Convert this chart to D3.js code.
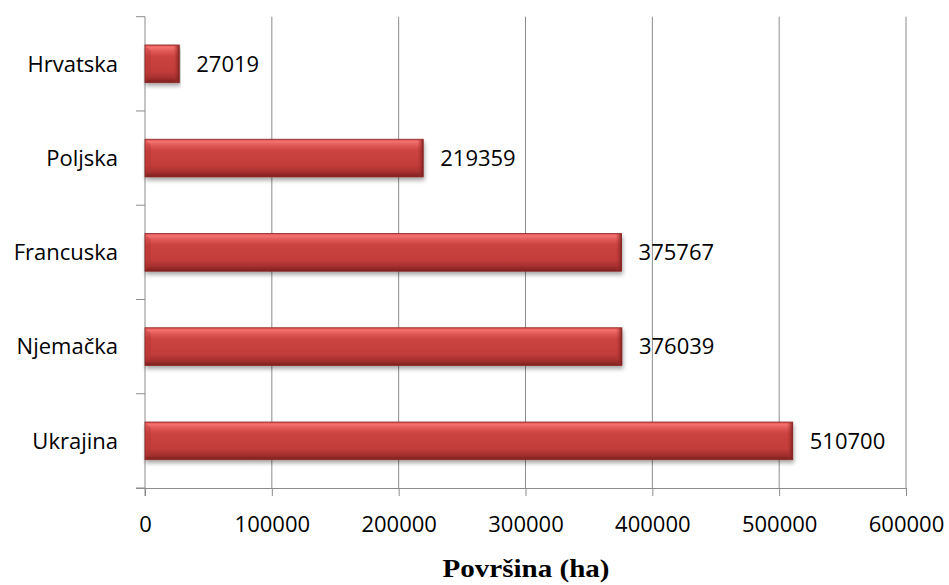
<!DOCTYPE html>
<html>
<head>
<meta charset="utf-8">
<script src="https://cdn.jsdelivr.net/npm/d3@7"></script>
<style>
  body { margin: 0; background: #fff; }
  svg { display: block; }
</style>
</head>
<body>
<div id="chart"></div>
<script>
// data
const countries = ["Ukrajina", "Njemačka", "Francuska", "Poljska", "Hrvatska"];
const areas = [510700, 376039, 375767, 219359, 27019];
const xTicks = [0, 100000, 200000, 300000, 400000, 500000, 600000];
const xTitle = "Površina (ha)";

const data = countries.map((c, i) => ({ name: c, value: areas[i] }));

let margin = { top: 16.7, right: 43, bottom: 97, left: 145 },
  width = 949 - margin.left - margin.right,
  height = 585 - margin.top - margin.bottom;

const svg = d3
  .select("#chart")
  .append("svg")
  .attr("width", 949)
  .attr("height", 585);

// gradients for the bevelled bars
const defs = svg.append("defs");
const grad = defs
  .append("linearGradient")
  .attr("id", "barGrad")
  .attr("x1", 0).attr("y1", 0).attr("x2", 0).attr("y2", 1);
[
  [0, "#d84a48"],
  [0.06, "#f37270"],
  [0.16, "#e15a58"],
  [0.3, "#cc4341"],
  [0.7, "#c23d3b"],
  [0.86, "#a8302f"],
  [1, "#7c2120"],
].forEach(([o, c]) => grad.append("stop").attr("offset", o).attr("stop-color", c));

const endGrad = defs
  .append("linearGradient")
  .attr("id", "endGrad")
  .attr("x1", 0).attr("y1", 0).attr("x2", 1).attr("y2", 0);
endGrad.append("stop").attr("offset", 0).attr("stop-color", "#b53533").attr("stop-opacity", 0);
endGrad.append("stop").attr("offset", 1).attr("stop-color", "#7a1f1e").attr("stop-opacity", 0.9);

const shadow = defs.append("filter").attr("id", "shadow")
  .attr("x", "-5%").attr("y", "-20%").attr("width", "110%").attr("height", "160%");
shadow.append("feDropShadow")
  .attr("dx", 1).attr("dy", 3).attr("stdDeviation", 2.2)
  .attr("flood-color", "#000").attr("flood-opacity", 0.35);

const g = svg.append("g").attr("transform", "translate(" + margin.left + "," + margin.top + ")");

// scales
const x = d3.scaleLinear().domain([0, 600000]).range([0, width]);
const y = d3
  .scaleBand()
  .domain(data.map((d) => d.name).reverse())
  .range([0, height])
  .paddingInner(0.6)
  .paddingOuter(0.3);

// vertical gridlines
g.selectAll(".grid")
  .data(xTicks.filter((d) => d > 0))
  .join("line")
  .attr("class", "grid")
  .attr("x1", (d) => x(d)).attr("x2", (d) => x(d))
  .attr("y1", 0).attr("y2", height)
  .attr("stroke", "#8c8c8c")
  .attr("stroke-width", 1);

// x axis
const xAxis = g
  .append("g")
  .attr("transform", "translate(0," + height + ")")
  .call(d3.axisBottom(x).tickValues(xTicks).tickFormat(d3.format("d")).tickSize(8).tickPadding(20));
xAxis.select(".domain").attr("stroke", "#8c8c8c").attr("d", "M-9,0.5H" + width);
xAxis.selectAll(".tick line").attr("stroke", "#8c8c8c");
xAxis.selectAll("text")
  .attr("fill", "#000")
  .style("font-family", "'Open Sans', sans-serif")
  .style("font-size", "22px");

// y axis: line, category boundary ticks, labels
g.append("line")
  .attr("x1", 0).attr("x2", 0).attr("y1", 0).attr("y2", height + 8)
  .attr("stroke", "#8c8c8c");

const step = y.step();
const offs = (step - y.bandwidth()) / 2;
const bounds = y.domain().map((d) => y(d) - offs).concat([height]);
g.selectAll(".ytick")
  .data(bounds)
  .join("line")
  .attr("class", "ytick")
  .attr("x1", -9).attr("x2", 0)
  .attr("y1", (d) => d).attr("y2", (d) => d)
  .attr("stroke", "#8c8c8c");

g.selectAll(".ylabel")
  .data(data)
  .join("text")
  .attr("class", "ylabel")
  .attr("x", -27)
  .attr("y", (d) => y(d.name) + y.bandwidth() / 2)
  .attr("dy", "0.35em")
  .attr("text-anchor", "end")
  .style("font-family", "'Open Sans', sans-serif")
  .style("font-size", "22px")
  .text((d) => d.name);

// bars
const bars = g.selectAll(".bar").data(data).join("g").attr("class", "bar");
bars.append("rect")
  .attr("x", 0)
  .attr("y", (d) => y(d.name))
  .attr("width", (d) => x(d.value))
  .attr("height", y.bandwidth())
  .attr("fill", "url(#barGrad)")
  .attr("stroke", "#8e2928")
  .attr("stroke-width", 0.8)
  .attr("filter", "url(#shadow)");
// bevel facet at the right end
bars.append("rect")
  .attr("x", (d) => Math.max(0, x(d.value) - 6))
  .attr("y", (d) => y(d.name) + 0.5)
  .attr("width", (d) => Math.min(6, x(d.value)))
  .attr("height", y.bandwidth() - 1)
  .attr("fill", "url(#endGrad)");
// bevel facet at the left end (light corner)
bars.append("path")
  .attr("d", (d) => {
    const y0 = y(d.name), h = y.bandwidth();
    return "M0.5," + (y0 + 1) + "L6," + (y0 + 6) + "L6," + (y0 + h - 6) + "L0.5," + (y0 + h - 1) + "Z";
  })
  .attr("fill", "#b33331")
  .attr("opacity", 0.35);

// value labels
g.selectAll(".vlabel")
  .data(data)
  .join("text")
  .attr("class", "vlabel")
  .attr("x", (d) => x(d.value) + 17)
  .attr("y", (d) => y(d.name) + y.bandwidth() / 2)
  .attr("dy", "0.35em")
  .style("font-family", "'Open Sans', sans-serif")
  .style("font-size", "22px")
  .text((d) => d.value);

// axis title
svg.append("text")
  .attr("x", 526)
  .attr("y", 577)
  .attr("text-anchor", "middle")
  .attr("textLength", 167)
  .attr("lengthAdjust", "spacingAndGlyphs")
  .style("font-family", "'Times New Roman', 'Liberation Serif', serif")
  .style("font-weight", "bold")
  .style("font-size", "25px")
  .text(xTitle);
</script>
</body>
</html>
